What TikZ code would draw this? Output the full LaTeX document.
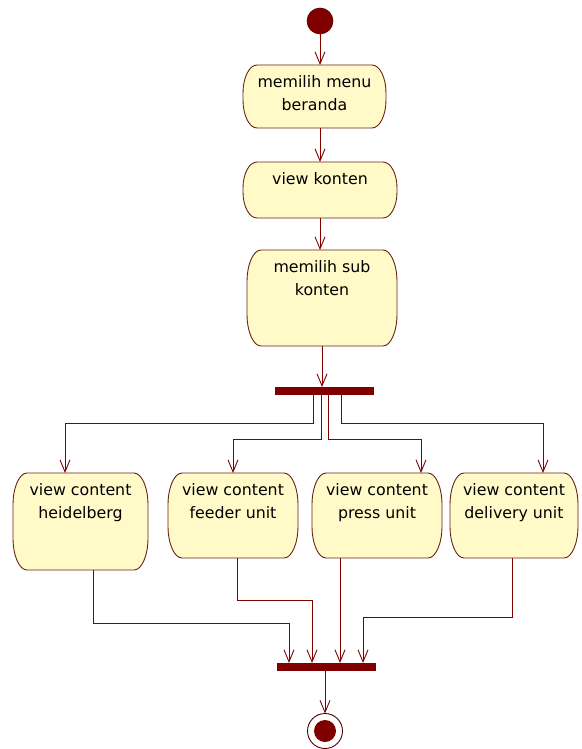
\documentclass[tikz,border=0pt]{standalone}
\usepackage{fontspec}
\setmainfont{DejaVu Sans}
\usetikzlibrary{arrows.meta,calc}
\pgfdeclarelayer{background}
\pgfsetlayers{background,main}
\definecolor{umlred}{RGB}{128,0,0}
\definecolor{umlfill}{RGB}{255,250,200}
\definecolor{umlborder}{RGB}{105,35,20}
\newcommand\acttext[3]{\parbox[c][#1][t]{#2}{\centering\vspace*{7pt}\strut #3}}
\newcommand\actshape[2]{%
  \path[actframe] ($(#1.north west)+(14pt,0pt)$) -- ($(#1.north east)+(-14pt,0pt)$)
    arc[start angle=90,end angle=0,x radius=14pt,y radius=#2]
    -- ($(#1.south east)+(0pt,#2)$)
    arc[start angle=0,end angle=-90,x radius=14pt,y radius=#2]
    -- ($(#1.south west)+(14pt,0pt)$)
    arc[start angle=270,end angle=180,x radius=14pt,y radius=#2]
    -- ($(#1.north west)+(0pt,-#2)$)
    arc[start angle=180,end angle=90,x radius=14pt,y radius=#2] -- cycle;}
\tikzset{
  act/.style={inner sep=0pt, outer sep=0pt, font=\fontsize{15.8}{22.5}\selectfont},
  actframe/.style={draw=umlborder, fill=umlfill, line width=0.9pt},
  syncbar/.style={fill=umlred, draw=none, inner sep=0pt, outer sep=0pt, minimum width=99pt, minimum height=8pt},
  flow/.style={draw=umlred, line width=0.9pt, -{Straight Barb[length=12pt,width=10pt,line width=0.9pt]}}
}
\begin{document}
\begin{tikzpicture}[x=1pt,y=-1pt]
\useasboundingbox (0,0) rectangle (581,749);
% start
\node[circle, fill=umlred, draw=umlred!75!black, line width=0.6pt, minimum size=26pt, inner sep=0pt, outer sep=0pt] (start) at (320,21) {};
% actions
\node[act] (b1) at (314.5,96.5) {\acttext{63pt}{143pt}{memilih menu\\beranda}};
\node[act] (b2) at (320,190) {\acttext{56pt}{154pt}{view konten}};
\node[act] (b3) at (322,298) {\acttext{96pt}{150pt}{memilih sub\\konten}};
\node[syncbar] (bar1) at (324.5,391) {};
\node[act] (h) at (80.5,521.5) {\acttext{97pt}{135pt}{view content\\heidelberg}};
\node[act] (f) at (233,515.5) {\acttext{85pt}{130pt}{view content\\feeder unit}};
\node[act] (p) at (377,515.5) {\acttext{85pt}{130pt}{view content\\press unit}};
\node[act] (d) at (514,515.5) {\acttext{85pt}{128pt}{view content\\delivery unit}};
\node[syncbar] (bar2) at (326.5,667) {};
\node[circle, draw=umlred!60!black, fill=white, line width=0.9pt, minimum size=35pt, inner sep=0pt, outer sep=0pt,
  path picture={\fill[umlred] (path picture bounding box.center) circle[radius=11pt];}] (end) at (325,731) {};
\begin{pgfonlayer}{background}
\actshape{b1}{28pt}
\actshape{b2}{26pt}
\actshape{b3}{32pt}
\actshape{h}{32pt}
\actshape{f}{32pt}
\actshape{p}{32pt}
\actshape{d}{32pt}
\end{pgfonlayer}
% connectors
\draw[flow] (start.south) -- (start.south |- b1.north);
\draw[flow] (b1.south -| start) -- (b2.north -| start);
\draw[flow] (b2.south -| start) -- (b3.north -| start);
\draw[flow] (b3.south) -- (b3.south |- bar1.north);
\draw[flow] ([xshift=-11.5pt]bar1.south) -- ++(0,28) -| ([xshift=-15.5pt]h.north);
\draw[flow] ([xshift=-3.5pt]bar1.south) -- ++(0,44) -| (f.north);
\draw[flow] ([xshift=3.5pt]bar1.south) -- ++(0,44) -| ([xshift=44pt]p.north);
\draw[flow] ([xshift=16.5pt]bar1.south) -- ++(0,28) -| ([xshift=29pt]d.north);
\draw[flow] ([xshift=12.5pt]h.south) -- ++(0,53) -| ([xshift=-37.5pt]bar2.north);
\draw[flow] ([xshift=4pt]f.south) -- ++(0,42) -| ([xshift=-14.5pt]bar2.north);
\draw[flow] ([xshift=-37pt]p.south) -- ([xshift=13.5pt]bar2.north);
\draw[flow] ([xshift=-2pt]d.south) -- ++(0,59) -| ([xshift=36.5pt]bar2.north);
\draw[flow] (bar2.south -| end.north) -- (end.north);
\end{tikzpicture}
\end{document}
